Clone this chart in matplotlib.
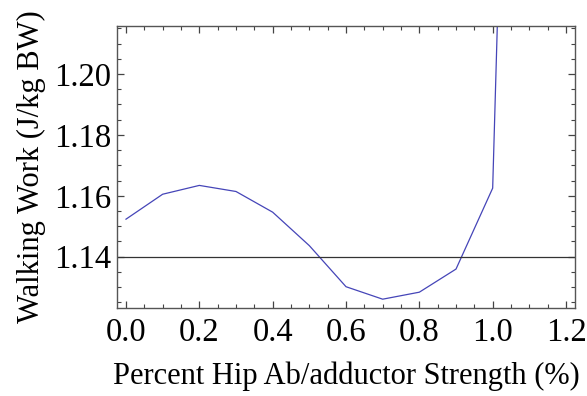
import matplotlib
matplotlib.use("Agg")
import matplotlib.pyplot as plt
from matplotlib.ticker import MultipleLocator

# strength fraction vs walking work
strength = [0.0, 0.1, 0.2, 0.3, 0.4, 0.5, 0.6, 0.7, 0.8, 0.9, 1.0, 1.1]
work = [1.1523, 1.1605, 1.1634, 1.1614, 1.1546, 1.1436, 1.1301, 1.1260,
        1.1283, 1.1359, 1.1625, 1.585]
baseline = 1.14
xticks = [0.0, 0.2, 0.4, 0.6, 0.8, 1.0, 1.2]
yticks = [1.14, 1.16, 1.18, 1.20]

plt.rcParams["font.family"] = ["Liberation Serif", "DejaVu Serif"]

fig = plt.figure(figsize=(5.87, 3.96), dpi=100)
ax = fig.add_axes([117/587, 1-307.7/396, (575-117)/587, (307.7-26)/396])

ax.plot(strength, work, color=(0.27, 0.27, 0.72), lw=0.9)
ax.axhline(baseline, color="#333333", lw=0.9)

ax.set_xlim(-0.0245, 1.2245)
ax.set_ylim(1.1232, 1.2158)
ax.set_xticks(xticks)
ax.set_xticklabels(["%.1f" % v for v in xticks])
ax.set_yticks(yticks)
ax.set_yticklabels(["%.2f" % v for v in yticks])
ax.xaxis.set_minor_locator(MultipleLocator(0.05))
ax.yaxis.set_minor_locator(MultipleLocator(0.005))
ax.tick_params(which="both", direction="in", top=True, right=True,
               color="#444444", labelsize=23.5)
ax.tick_params(axis="x", which="major", pad=7)
ax.tick_params(axis="y", which="major", pad=4)
ax.tick_params(which="major", length=5, width=0.9)
ax.tick_params(which="minor", length=3, width=0.8)
for s in ax.spines.values():
    s.set_color("#555555"); s.set_linewidth(1.0)

ax.set_xlabel("Percent Hip Ab/adductor Strength (%)", fontsize=22, labelpad=10)
ax.set_ylabel("Walking Work (J/kg BW)", fontsize=22, labelpad=6)

fig.savefig("out.png", dpi=100)
